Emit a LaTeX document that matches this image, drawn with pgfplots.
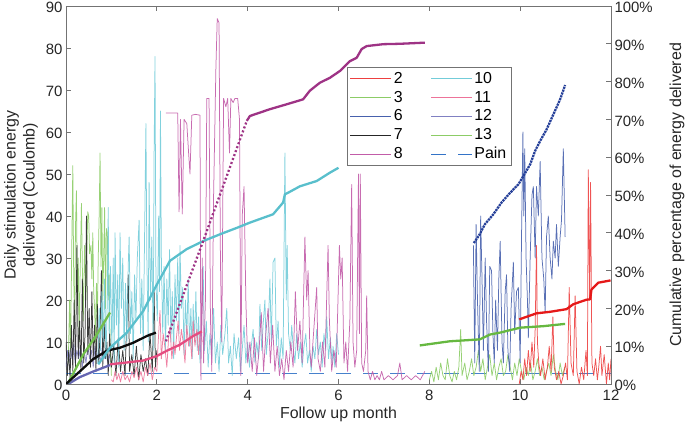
\documentclass[border=0pt]{standalone}
\usepackage{fontspec}
\setmainfont{Liberation Sans}
\usepackage{pgfplots}
\pgfplotsset{compat=1.18}
% thin (daily) colours
\definecolor{t2}{rgb}{0.93,0.25,0.25}
\definecolor{t3}{rgb}{0.55,0.80,0.40}
\definecolor{t6}{rgb}{0.28,0.38,0.68}
\definecolor{t7}{rgb}{0.15,0.15,0.15}
\definecolor{t8}{rgb}{0.76,0.36,0.66}
\definecolor{t10}{rgb}{0.45,0.80,0.85}
\definecolor{t11}{rgb}{0.93,0.45,0.60}
\definecolor{t12}{rgb}{0.50,0.50,0.76}
\definecolor{t13}{rgb}{0.55,0.80,0.40}
\definecolor{pain}{rgb}{0.20,0.45,0.78}
% thick (cumulative) colours
\definecolor{k2}{rgb}{0.90,0.10,0.10}
\definecolor{k3}{rgb}{0.45,0.75,0.30}
\definecolor{k6}{rgb}{0.15,0.25,0.60}
\definecolor{k7}{rgb}{0.05,0.05,0.05}
\definecolor{k8}{rgb}{0.62,0.20,0.52}
\definecolor{k10}{rgb}{0.35,0.75,0.80}
\definecolor{k11}{rgb}{0.90,0.30,0.50}
\definecolor{k12}{rgb}{0.40,0.40,0.70}
\definecolor{k13}{rgb}{0.40,0.72,0.25}
\definecolor{axgray}{rgb}{0.45,0.45,0.45}
\begin{document}
\begin{tikzpicture}
\useasboundingbox (-66bp,-45bp) rectangle (619bp,384bp);
\pgfplotsset{
  base/.style={at={(0,0)}, anchor=south west,
    width=545bp, height=378bp, scale only axis,
    xmin=0, xmax=12, tick align=inside, major tick length=5bp,
    axis line style={axgray, line width=0.7bp},
    tick style={axgray, line width=0.7bp},
    ticklabel style={font=\fontsize{15}{18}\selectfont, text=black!85},
    xticklabel style={yshift=-3bp},
    yticklabel style={yshift=-1.5bp},
    /pgf/number format/assume math mode=true,
    label style={font=\fontsize{16}{19}\selectfont, text=black!85}},
  thin/.style={line width=0.75bp, line join=round, forget plot, opacity=0.9},
  thick/.style={line width=2.3bp, line join=round, forget plot}
}
\begin{axis}[base, ymin=0, ymax=90,
  xtick={0,2,...,12}, ytick={0,10,...,90},
  xtick pos=both, ytick pos=left,
  xlabel={Follow up month},
  xlabel style={at={(axis description cs:0.5,-0.080)}, anchor=center},
  ylabel={Daily stimulation energy\\delivered (Coulomb)},
  ylabel style={align=center, at={(axis description cs:-0.0826,0.5)}, anchor=center}]
% pain
\addplot[thin, pain, dash pattern=on 15bp off 12bp] coordinates {(0,2.5)(12,2.5)};
% 12
\addplot[thin, t12] coordinates {(0,4)(0.03,8)(0.06,5)(0.1,9)(0.13,6)(0.17,9.5)(0.2,5)(0.24,8)(0.28,6)(0.32,9)(0.36,4)(0.4,8)(0.44,5)(0.48,9)(0.52,6)(0.56,8)(0.6,4)(0.64,9)(0.68,6)(0.72,8)(0.76,5)(0.8,9)(0.84,6)(0.88,8)(0.92,5)(0.96,7)(1.0,4)};
% 3
\addplot[thin, t3] coordinates {(0.05,5)(0.08,20)(0.1,8)(0.13,35)(0.15,52)(0.17,25)(0.19,15)(0.21,38)(0.23,46)(0.25,20)(0.27,30)(0.29,10)(0.31,25)(0.34,43)(0.36,28)(0.38,15)(0.41,33)(0.44,20)(0.46,32)(0.48,41)(0.5,40)(0.52,31)(0.55,33)(0.57,25)(0.59,36)(0.61,22)(0.63,18)(0.65,10)(0.67,24)(0.69,15)(0.71,30)(0.73,40)(0.75,55)(0.77,28)(0.79,42)(0.81,20)(0.83,30)(0.85,42)(0.87,18)(0.89,37)(0.91,36)(0.93,20)(0.95,26)(0.97,10)(1.0,2)};
% 7
\addplot[thin, t7] coordinates {(0,10)(0.03,2)(0.06,8)(0.09,1)(0.12,14)(0.15,3)(0.18,20)(0.21,4)(0.24,33)(0.27,6)(0.3,15)(0.33,3)(0.36,25)(0.39,5)(0.42,12)(0.45,40)(0.48,7)(0.51,18)(0.54,4)(0.57,22)(0.6,6)(0.63,14)(0.66,3)(0.69,19)(0.72,5)(0.75,12)(0.78,27)(0.81,4)(0.84,15)(0.87,6)(0.9,10)(0.93,2)(0.96,12)(1.0,4)(1.05,9)(1.1,2)(1.15,11)(1.2,3)(1.25,8)(1.3,2)(1.37,26)(1.4,3)(1.45,7)(1.5,2)(1.55,9)(1.6,1)(1.65,7)(1.7,3)(1.75,6)(1.8,2)(1.85,12)(1.9,3)(1.94,22)(1.97,4)(2.0,8)};
% 10
\addplot[thin, t10] coordinates {(0.70,5)(0.73,18)(0.76,8)(0.79,22)(0.82,10)(0.85,25)(0.88,6)(0.91,20)(0.93,42)(0.95,12)(0.98,28)(1.01,8)(1.04,30)(1.06,5)(1.08,36)(1.11,14)(1.14,26)(1.16,4)(1.19,36)(1.22,18)(1.25,30)(1.28,8)(1.31,24)(1.34,10)(1.37,28)(1.39,35)(1.42,12)(1.45,22)(1.48,6)(1.51,26)(1.54,15)(1.57,30)(1.61,39)(1.64,12)(1.67,25)(1.70,8)(1.73,35)(1.76,62)(1.78,30)(1.81,10)(1.83,48)(1.86,20)(1.89,35)(1.92,8)(1.94,55)(1.96,78)(1.98,25)(2.01,15)(2.04,40)(2.06,22)(2.08,65)(2.10,30)(2.13,12)(2.16,28)(2.19,8)(2.22,25)(2.25,14)(2.28,32)(2.31,10)(2.34,22)(2.37,6)(2.40,26)(2.43,15)(2.46,30)(2.49,12)(2.51,33)(2.54,18)(2.57,23)(2.60,7)(2.63,20)(2.66,11)(2.69,25)(2.72,9)(2.75,18)(2.78,6)(2.80,19)(2.83,10)(2.86,22)(2.89,8)(2.92,16)(2.95,5)(2.98,14)(3.02,28)(3.05,8)(3.09,15)(3.13,4)(3.17,12)(3.21,6)(3.25,18)(3.29,5)(3.33,10)(3.37,3)(3.41,14)(3.45,7)(3.50,12)(3.54,18)(3.58,5)(3.62,9)(3.66,2)(3.70,12)(3.75,6)(3.80,11)(3.84,3)(3.88,8)(3.92,14)(3.96,5)(4.00,10)(4.04,4)(4.08,9)(4.12,13)(4.16,5)(4.20,10)(4.24,6)(4.27,19)(4.31,8)(4.34,14)(4.38,20)(4.41,7)(4.45,12)(4.49,25)(4.52,10)(4.56,29)(4.60,30)(4.63,9)(4.67,15)(4.70,4)(4.74,11)(4.78,6)(4.82,55)(4.85,20)(4.87,33)(4.90,12)(4.94,8)(4.97,14)(5.00,9)(5.04,5)(5.08,12)(5.12,6)(5.16,10)(5.20,4)(5.24,9)(5.28,12)(5.32,5)(5.36,8)(5.40,3)(5.44,9)(5.48,6)(5.52,13)(5.56,7)(5.60,10)(5.64,4)(5.68,12)(5.72,8)(5.74,16)(5.78,6)(5.82,11)(5.86,5)(5.88,9)(5.92,4)(5.96,12)(6.00,7)};
% 11
\addplot[thin, t11] coordinates {(1.0,1)(1.04,0.5)(1.08,3)(1.12,1)(1.16,2.5)(1.2,0.5)(1.25,3)(1.3,1)(1.35,2)(1.4,0.5)(1.45,3)(1.5,1.5)(1.55,4)(1.6,1)(1.65,3)(1.7,0.5)(1.75,4)(1.8,2)(1.85,5)(1.9,1)(1.95,4)(2.0,3)(2.03,10)(2.07,17.5)(2.1,6)(2.14,12)(2.18,8.5)(2.22,4)(2.26,11)(2.29,13.5)(2.33,6)(2.37,10)(2.4,7)(2.44,12)(2.47,15)(2.5,8)(2.54,13)(2.58,10)(2.62,5)(2.66,14)(2.7,9)(2.73,12)(2.77,6)(2.8,15)(2.84,9)(2.88,13)(2.92,7)(2.95,12.5)(3.0,10)};
% 8
\addplot[thin, t8] coordinates {(2.20,64.5)(2.46,64.5)(2.49,41)(2.52,63)(2.56,40.5)(2.6,63)(2.66,62)(2.7,55)(2.73,50)(2.77,64)(2.85,64.2)(2.95,64)(2.97,1)(3.0,30)(3.03,5)(3.07,20)(3.1,68)(3.15,68)(3.18,16)(3.21,3)(3.25,45)(3.3,75)(3.33,87)(3.37,86)(3.4,30)(3.43,10)(3.47,68)(3.52,66)(3.56,68)(3.6,55)(3.63,68)(3.68,67)(3.72,68)(3.78,68)(3.82,63)(3.85,2)(3.88,40)(3.92,47)(3.96,20)(4.0,5)(4.05,10)(4.1,3)(4.15,11)(4.2,2)(4.25,8)(4.3,17)(4.35,3)(4.4,12)(4.45,18)(4.5,5)(4.55,14)(4.6,3)(4.65,9)(4.7,2)(4.75,6)(4.8,1)(4.85,8)(4.9,3)(4.95,10)(5.0,4)(5.05,22)(5.1,8)(5.15,15)(5.2,5)(5.26,35)(5.3,20)(5.33,27)(5.37,8)(5.4,4)(5.45,12)(5.52,23)(5.55,6)(5.6,3)(5.65,10)(5.7,4)(5.77,33)(5.8,15)(5.85,3)(5.9,8)(5.95,4)(6.02,33)(6.05,25)(6.08,30)(6.12,5)(6.16,10)(6.2,3)(6.25,15)(6.29,47.5)(6.32,10)(6.36,4)(6.4,8)(6.44,50)(6.46,12)(6.48,50)(6.51,5)(6.55,3)(6.6,8)(6.62,21)(6.65,3)(6.7,1)(6.75,3)(6.8,1)(6.85,2)(6.9,1)(6.95,3)(7.0,1)(7.1,2)(7.2,1)(7.3,2)(7.35,5)(7.4,1)(7.5,2)(7.6,1)(7.7,2)(7.8,1)(7.9,3)};
% 13
\addplot[thin, t13] coordinates {(8.0,1)(8.05,3)(8.1,0.5)(8.15,4)(8.2,1)(8.25,5)(8.3,2)(8.35,1)(8.4,6)(8.45,2)(8.5,0.5)(8.55,3)(8.6,1)(8.65,4)(8.69,13)(8.72,2)(8.78,5)(8.83,1)(8.88,3)(8.93,6)(8.98,2)(9.03,4)(9.08,8)(9.13,3)(9.18,6)(9.23,1)(9.28,4)(9.33,7)(9.38,2)(9.43,5)(9.48,1)(9.53,4)(9.58,6)(9.63,2)(9.68,3)(9.73,7)(9.78,4)(9.83,1)(9.88,5)(9.93,2)(9.98,6)(10.03,3)(10.08,1)(10.13,4)(10.18,2)(10.23,5)(10.28,1)(10.33,3)(10.38,6)(10.43,2)(10.48,4)(10.53,1)(10.58,3)(10.63,5)(10.68,2)(10.73,7)(10.78,3)(10.83,1)(10.88,5)(10.93,2)(10.98,4)};
% 6
\addplot[thin, t6] coordinates {(8.97,33)(9.0,5)(9.03,38)(9.06,20)(9.1,3)(9.13,40)(9.16,25)(9.19,8)(9.23,30)(9.26,15)(9.3,3)(9.33,28)(9.37,27)(9.4,12)(9.43,5)(9.46,20)(9.5,8)(9.53,25)(9.56,34)(9.6,10)(9.63,5)(9.67,22)(9.7,26)(9.73,8)(9.77,3)(9.8,18)(9.85,29)(9.88,12)(9.92,22)(9.96,23)(10.0,5)(10.03,35)(10.06,60)(10.08,40)(10.1,56)(10.13,30)(10.16,20)(10.18,11)(10.22,30)(10.26,45)(10.29,47)(10.33,30)(10.36,47)(10.4,40)(10.44,53)(10.48,30)(10.52,25)(10.55,17)(10.58,35)(10.62,40)(10.66,30)(10.7,25)(10.73,34)(10.77,30)(10.8,38)(10.84,28)(10.88,35)(10.91,39)(10.95,56)(10.99,35)};
% 2
\addplot[thin, t2] coordinates {(9.98,0)(10.02,3)(10.06,1)(10.1,6)(10.14,2)(10.18,8)(10.22,3)(10.26,10)(10.3,4)(10.33,13)(10.36,33)(10.38,10)(10.41,5)(10.45,2)(10.5,6)(10.55,1)(10.6,4)(10.64,9)(10.68,3)(10.72,16)(10.75,4)(10.8,1)(10.85,3)(10.9,0)(10.95,2)(11.0,5)(11.04,1)(11.08,23)(11.12,5)(11.17,2)(11.21,21)(11.25,3)(11.3,0)(11.35,4)(11.4,1)(11.45,8)(11.48,2)(11.5,51)(11.53,20)(11.55,48)(11.58,5)(11.62,2)(11.66,6)(11.7,1)(11.73,4)(11.77,9)(11.8,2)(11.85,7)(11.9,0)(11.94,5)(11.97,1)(12.0,6)};
\end{axis}
\begin{axis}[base, ymin=0, ymax=100,
  axis x line=none, axis y line*=right,
  ytick={0,10,...,100},
  yticklabels={0\%,10\%,20\%,30\%,40\%,50\%,60\%,70\%,80\%,90\%,100\%},
  ylabel={Cumulative percentage of energy delivered},
  ylabel style={at={(axis description cs:1.121,0.5)}, anchor=center},
  legend columns=2,
  legend cell align=left,
  legend image code/.code={\draw[#1] (0bp,0bp) -- (41bp,0bp);},
  legend style={at={(0.515,0.839)}, anchor=north west, draw=axgray, line width=0.7bp, fill=white,
    font=\fontsize{16}{18}\selectfont, inner xsep=3bp, inner ysep=3bp, row sep=2.2bp,
    /tikz/every even column/.append style={column sep=26bp}}]
\addlegendimage{t2, line width=0.75bp}\addlegendentry{2}
\addlegendimage{t10, line width=0.75bp}\addlegendentry{10}
\addlegendimage{t3, line width=0.75bp}\addlegendentry{3}
\addlegendimage{t11, line width=0.75bp}\addlegendentry{11}
\addlegendimage{t6, line width=0.75bp}\addlegendentry{6}
\addlegendimage{t12, line width=0.75bp}\addlegendentry{12}
\addlegendimage{t7, line width=0.75bp}\addlegendentry{7}
\addlegendimage{t13, line width=0.75bp}\addlegendentry{13}
\addlegendimage{t8, line width=0.75bp}\addlegendentry{8}
\addlegendimage{pain, line width=0.75bp, dash pattern=on 15bp off 12bp}\addlegendentry{Pain}
% cumulative
\addplot[thick, k12] coordinates {(0.05,0)(0.3,1.8)(0.6,3.3)(0.97,5.0)};
\addplot[thick, k3] coordinates {(0.05,0.3)(0.38,7.8)(0.68,13.1)(0.97,18.9)};
\addplot[thick, k7] coordinates {(0,0)(0.31,3.4)(0.6,6.6)(0.9,8.8)(1.19,9.6)(1.48,10.9)(1.78,12.7)(1.98,13.6)};
\addplot[thick, k10] coordinates {(0.71,5.2)(0.97,9.6)(1.34,13.6)(1.7,19.3)(2.0,26.3)(2.29,32.6)(2.66,35.7)(3.02,37.8)(3.39,39.6)(3.76,41.3)(4.05,42.7)(4.56,44.9)(4.78,48.0)(4.82,50.2)(4.89,50.6)(5.15,52.3)(5.52,53.7)(5.81,55.9)(6.0,57.2)};
\addplot[thick, k11] coordinates {(0.97,5.2)(1.34,5.7)(1.7,6.2)(2.0,7.4)(2.22,8.8)(2.51,10.4)(2.8,12.7)(2.99,13.9)};
\addplot[thick, k8, dash pattern=on 2bp off 2.2bp] coordinates {(2.2,11.3)(3.02,37.8)(3.98,69.6)};
\addplot[thick, k8] coordinates {(3.98,69.6)(4.05,70.9)(4.49,72.7)(4.86,74.0)(5.22,75.3)(5.37,77.6)(5.59,79.7)(5.81,81.0)(6.03,82.8)(6.25,85.4)(6.4,86.3)(6.51,88.6)(6.62,89.4)(6.99,89.9)(7.35,90.0)(7.9,90.3)};
\addplot[thick, k13] coordinates {(7.79,10.2)(8.45,11.3)(9.11,11.8)(9.34,13.1)(9.56,13.6)(10.0,14.9)(10.51,15.3)(10.99,15.9)};
\addplot[thick, k6, dash pattern=on 2.2bp off 0.8bp] coordinates {(8.98,37.3)(9.11,39.6)(9.22,42.2)(9.41,44.9)(9.59,48.0)(9.78,50.6)(9.96,52.8)(10.07,55.0)(10.22,58.1)(10.33,61.7)(10.44,64.3)(10.58,67.3)(10.73,71.3)(10.88,75.3)(10.99,79.1)};
\addplot[thick, k2] coordinates {(9.98,17.1)(10.36,18.7)(10.66,19.1)(11.02,19.8)(11.17,21.1)(11.46,22.3)(11.54,22.4)(11.57,25.0)(11.72,26.8)(11.99,27.4)};
\end{axis}
\end{tikzpicture}
\end{document}
